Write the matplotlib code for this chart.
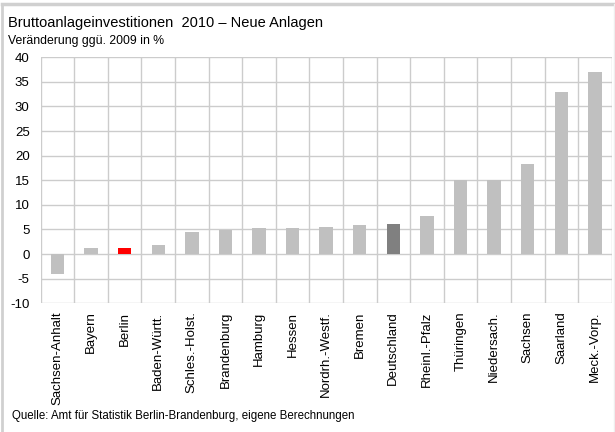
import matplotlib
matplotlib.use("Agg")
import matplotlib.pyplot as plt
from matplotlib.lines import Line2D

plt.rcParams['font.family'] = ['Liberation Sans', 'DejaVu Sans']
plt.rcParams['axes.unicode_minus'] = False

# Veränderung ggü. 2009 in %
laender = ['Sachsen-Anhalt', 'Bayern', 'Berlin', 'Baden-Württ.', 'Schles.-Holst.',
           'Brandenburg', 'Hamburg', 'Hessen', 'Nordrh.-Westf.', 'Bremen',
           'Deutschland', 'Rheinl.-Pfalz', 'Thüringen', 'Niedersach.', 'Sachsen',
           'Saarland', 'Meck.-Vorp.']
werte = [-4.1, 1.2, 1.3, 1.8, 4.4, 4.8, 5.2, 5.2, 5.5, 6.0,
         6.2, 7.8, 15.1, 15.1, 18.3, 32.9, 37.1]

farben = []
for land in laender:
    if land == 'Berlin':
        farben.append('#ff0000')
    elif land == 'Deutschland':
        farben.append('#808080')
    else:
        farben.append('#c0c0c0')

fig = plt.figure(figsize=(6.15, 4.32), dpi=100)
ax = fig.add_axes([0.0662, 0.298, 0.9284, 0.5694])

x = range(len(laender))
ax.bar(x, werte, width=0.4, color=farben, zorder=3)

ax.set_xlim(-0.5, len(laender) - 0.5)
ax.set_ylim(-10, 40)
ax.set_yticks(range(-10, 41, 5))
ax.set_xticks(list(x))
ax.set_xticklabels(laender, rotation=90, fontsize=9.5)
ax.tick_params(axis='y', labelsize=9.5, length=0, pad=8)
ax.tick_params(axis='x', length=0, pad=6)

# Gitter: horizontal alle 5, vertikal zwischen den Kategorien
for v in range(-10, 41, 5):
    ax.axhline(v, color='#cccccc', lw=1, zorder=1)
for i in range(len(laender) + 1):
    ax.axvline(i - 0.5, color='#cccccc', lw=1, zorder=1)
for s in ax.spines.values():
    s.set_visible(False)

fig.text(0.013, 0.937, 'Bruttoanlageinvestitionen  2010 – Neue Anlagen', fontsize=10.5)
fig.text(0.013, 0.898, 'Veränderung ggü. 2009 in %', fontsize=8.8)
fig.text(0.02, 0.03, 'Quelle: Amt für Statistik Berlin-Brandenburg, eigene Berechnungen', fontsize=8.3)

# Rahmen um die Grafik
fig.add_artist(Line2D([0.004, 0.004], [0, 0.99], transform=fig.transFigure, color='#d0d0d0', lw=2))
fig.add_artist(Line2D([0.004, 1.0], [0.99, 0.99], transform=fig.transFigure, color='#d0d0d0', lw=2.5))
fig.add_artist(Line2D([0.998, 0.998], [0, 0.99], transform=fig.transFigure, color='#eeeeee', lw=1))

fig.savefig('out.png', dpi=100)
